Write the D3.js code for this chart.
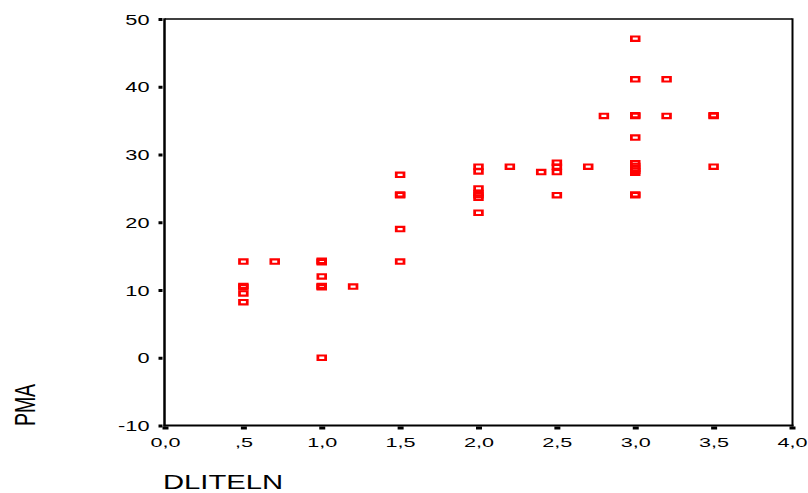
<!DOCTYPE html>
<html>
<head>
<meta charset="utf-8">
<script src="https://cdn.jsdelivr.net/npm/d3@7/dist/d3.min.js"></script>
<style>
  html, body { margin: 0; padding: 0; background: #fff; }
  svg { display: block; }
  text { font-family: "Liberation Sans", Arial, sans-serif; fill: #000; }
</style>
</head>
<body>
<svg id="chart" width="808" height="493"></svg>
<script>
// Observations: DLITELN (x) against PMA (y)
const dliteln = [
  0.5, 0.5, 0.5, 0.5, 0.5,
  0.7,
  1.0, 1.0, 1.0, 1.0, 1.0, 1.0, 1.0, 1.0,
  1.2,
  1.5, 1.5, 1.5, 1.5, 1.5,
  2.0, 2.0, 2.0, 2.0, 2.0, 2.0, 2.0,
  2.2,
  2.4,
  2.5, 2.5, 2.5, 2.5,
  2.7,
  2.8,
  3.0, 3.0, 3.0, 3.0, 3.0, 3.0, 3.0, 3.0, 3.0, 3.0, 3.0, 3.0,
  3.2, 3.2,
  3.5, 3.5, 3.5
];
const pma = [
  14.2, 10.6, 10.4, 9.5, 8.2,
  14.2,
  14.2, 14.3, 14.1, 12.0, 10.5, 10.6, 10.4, 0.0,
  10.5,
  27.0, 24.0, 24.1, 19.0, 14.2,
  28.2, 27.5, 25.0, 24.3, 24.0, 23.6, 21.4,
  28.2,
  27.4,
  28.8, 28.2, 27.4, 24.0,
  28.2,
  35.7,
  47.1, 41.1, 35.7, 35.8, 32.5, 28.7, 28.3, 27.9, 27.6, 27.3, 24.1, 24.0,
  41.1, 35.7,
  35.7, 35.8, 28.2
];

const xTicks = [0, 0.5, 1, 1.5, 2, 2.5, 3, 3.5, 4];
const xTickLabels = ["0,0", ",5", "1,0", "1,5", "2,0", "2,5", "3,0", "3,5", "4,0"];
const yTicks = [-10, 0, 10, 20, 30, 40, 50];
const yTickLabels = ["-10", "0", "10", "20", "30", "40", "50"];

const xTitle = "DLITELN";
const yTitle = "PMA";

const svg = d3.select("#chart");
const plotLeft = 165, plotRight = 792, plotTop = 19, plotBottom = 425.5;
const stretch = 1.5; // text is drawn wide, as in SPSS output

const x = d3.scaleLinear().domain([0, 4]).range([plotLeft, plotRight]);
const y = d3.scaleLinear().domain([-10, 50]).range([plotBottom, plotTop]);

// Y axis: short heavy ticks outside the frame
const yAxis = d3.axisLeft(y)
  .tickValues(yTicks)
  .tickSize(4)
  .tickFormat((d, i) => yTickLabels[i]);
const gy = svg.append("g").attr("transform", `translate(${plotLeft - 2.5},0)`).call(yAxis);
gy.select(".domain").remove();
gy.selectAll(".tick line").attr("stroke", "#000").attr("stroke-width", 3);
gy.selectAll(".tick text")
  .attr("x", 0)
  .attr("dy", "0.36em")
  .attr("transform", `translate(-13,0) scale(${stretch},1)`)
  .style("font-size", "14.5px")
  .attr("text-anchor", "end");

// X axis
const xAxis = d3.axisBottom(x)
  .tickValues(xTicks)
  .tickSize(3)
  .tickFormat((d, i) => xTickLabels[i]);
const gx = svg.append("g").attr("transform", `translate(0,${plotBottom + 1})`).call(xAxis);
gx.select(".domain").remove();
gx.selectAll(".tick line").attr("stroke", "#000").attr("stroke-width", 6);
gx.selectAll(".tick text")
  .attr("y", 0)
  .attr("dy", 0)
  .attr("transform", `translate(0,20.5) scale(${stretch + 0.1},1)`)
  .style("font-size", "13.5px")
  .attr("text-anchor", "middle");

// Frame
const frame = svg.append("g").attr("fill", "none").attr("stroke", "#000");
frame.append("line").attr("x1", plotLeft).attr("x2", plotRight).attr("y1", plotTop).attr("y2", plotTop).attr("stroke-width", 1.4);
frame.append("line").attr("x1", plotRight + 0.5).attr("x2", plotRight + 0.5).attr("y1", plotTop - 0.7).attr("y2", plotBottom + 1).attr("stroke-width", 2);
frame.append("line").attr("x1", plotLeft - 0.5).attr("x2", plotLeft - 0.5).attr("y1", plotTop - 0.7).attr("y2", plotBottom + 1).attr("stroke-width", 2.5);
frame.append("line").attr("x1", plotLeft - 1.5).attr("x2", plotRight + 1.5).attr("y1", plotBottom).attr("y2", plotBottom).attr("stroke-width", 2);

// Hollow rectangular markers
const mw = 10.5, mh = 6.5, iw = 5, ih = 2.3;
const markerPath = `M${-mw / 2},${-mh / 2}h${mw}v${mh}h${-mw}Z` +
  `M${-iw / 2},${-ih / 2}h${iw}v${ih}h${-iw}Z`;
const pts = dliteln.map((d, i) => ({ x: d, y: pma[i] }));
svg.append("g")
  .selectAll("path")
  .data(pts)
  .join("path")
  .attr("d", markerPath)
  .attr("fill", "#ff0000")
  .attr("fill-rule", "evenodd")
  .attr("transform", d => `translate(${x(d.x)},${y(d.y)})`);

// Axis titles
svg.append("text")
  .attr("transform", `translate(163,489) scale(${stretch},1)`)
  .style("font-size", "19.5px")
  .text(xTitle);

svg.append("text")
  .attr("transform", `translate(35,405) scale(${stretch},1) rotate(-90)`)
  .attr("text-anchor", "middle")
  .style("font-size", "19.5px")
  .text(yTitle);
</script>
</body>
</html>
